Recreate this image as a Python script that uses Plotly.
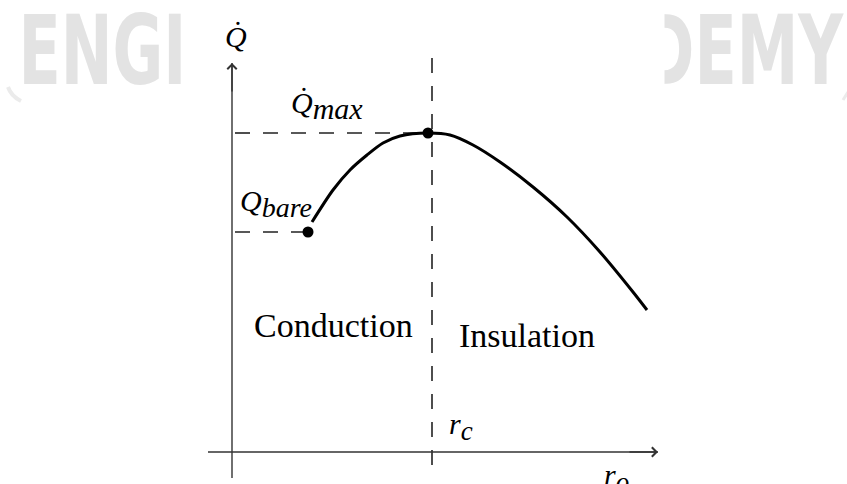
import plotly.graph_objects as go

# curve Q(r_o) (diagram units, origin at axes corner)
r_curve = [0.80, 1.01, 1.18, 1.35, 1.51, 1.68, 1.96, 2.18, 2.41, 2.68, 3.01, 3.35, 3.68, 4.01, 4.15]
q_curve = [2.30, 2.62, 2.82, 2.97, 3.09, 3.16, 3.19, 3.17, 3.07, 2.90, 2.65, 2.35, 2.00, 1.60, 1.42]

# marked points: bare pipe and maximum
r_points = [0.76, 1.96]
q_points = [2.20, 3.19]

r_c = 2.00
q_bare = 2.20
q_max = 3.19

# axis extents
x_axis = [-0.24, 4.26]
y_axis = [-0.26, 3.89]
rc_line = [-0.13, 4.06]

SERIF = "Liberation Serif"
WM_FONT = "DejaVu Sans"
WM_COLOR = "#e3e3e3"
DASH = "15px,13px"
W, H = 847, 484

fig = go.Figure()

# dashed guide lines
fig.add_trace(go.Scatter(x=[0.03, r_points[1]], y=[q_max, q_max], mode="lines",
                         line=dict(color="#222", width=1.6, dash=DASH), hoverinfo="skip"))
fig.add_trace(go.Scatter(x=[0.03, r_points[0]], y=[q_bare, q_bare], mode="lines",
                         line=dict(color="#222", width=1.6, dash=DASH), hoverinfo="skip"))
fig.add_trace(go.Scatter(x=[r_c, r_c], y=rc_line, mode="lines",
                         line=dict(color="#222", width=1.6, dash=DASH), hoverinfo="skip"))

# axes lines
fig.add_trace(go.Scatter(x=x_axis, y=[0, 0], mode="lines",
                         line=dict(color="#333", width=1.4), hoverinfo="skip"))
fig.add_trace(go.Scatter(x=[0, 0], y=y_axis, mode="lines",
                         line=dict(color="#333", width=1.4), hoverinfo="skip"))

# the curve
fig.add_trace(go.Scatter(x=r_curve, y=q_curve, mode="lines",
                         line=dict(color="black", width=3, shape="spline", smoothing=0.8),
                         hoverinfo="skip"))
fig.add_trace(go.Scatter(x=r_points, y=q_points, mode="markers",
                         marker=dict(color="black", size=11), hoverinfo="skip"))

# arrow heads
for (hx, hy, tx, ty) in [(x_axis[1], 0, x_axis[1] - 0.3, 0), (0, y_axis[1], 0, y_axis[1] - 0.3)]:
    fig.add_annotation(x=hx, y=hy, ax=tx, ay=ty, xref="x", yref="y", axref="x", ayref="y",
                       text="", showarrow=True, arrowhead=4, arrowsize=1.3, arrowwidth=1.4,
                       arrowcolor="#333", standoff=0)

def label(x, y, text, size=30, xanchor="left", yanchor="middle"):
    fig.add_annotation(x=x, y=y, xref="x", yref="y", text=text, showarrow=False,
                       xanchor=xanchor, yanchor=yanchor,
                       font=dict(family=SERIF, size=size, color="black"))

label(0.04, 4.16, "<i>Q\u0307</i>", xanchor="center")
label(0.57, 3.47, "<i>Q\u0307</i><sub><span style='font-size:30px'><i>max</i></span></sub>")
label(0.06, 2.49, "<i>Q</i><sub><span style='font-size:28px'><i>bare</i></span></sub>")
label(1.01, 1.27, "Conduction", size=34, xanchor="center")
label(2.95, 1.17, "Insulation", size=34, xanchor="center")
label(2.15, 0.26, "<i>r</i><sub><span style='font-size:27px'><i>c</i></span></sub>")
label(3.70, -0.25, "<i>r</i><sub><span style='font-size:27px'><i>o</i></span></sub>")

# watermark fragments (logo text squeezed horizontally in post_script)
fig.add_annotation(x=188 / W, y=1 - 51 / H, xref="paper", yref="paper", text="<b>ENGI</b>",
                   showarrow=False, xanchor="right", yanchor="middle",
                   font=dict(family=WM_FONT, size=96, color=WM_COLOR))
fig.add_annotation(x=641 / W, y=1 - 51 / H, xref="paper", yref="paper", text="<b>DEMY</b>",
                   showarrow=False, xanchor="left", yanchor="middle",
                   font=dict(family=WM_FONT, size=96, color=WM_COLOR))
fig.add_annotation(x=665 / W, y=1 - 51 / H, xref="paper", yref="paper", text=" ",
                   showarrow=False, xanchor="right", yanchor="middle", width=70, height=100,
                   bgcolor="white", borderpad=0, font=dict(size=10))
# bits of the logo ring
fig.add_shape(type="path", xref="paper", yref="paper",
              path=f"M {8/W},{1-87/H} Q {11/W},{1-96/H} {21/W},{1-101/H}",
              line=dict(color="#ebebeb", width=4))
fig.add_shape(type="line", xref="paper", yref="paper",
              x0=848 / W, y0=1 - 92 / H, x1=843 / W, y1=1 - 100 / H,
              line=dict(color="#ebebeb", width=3))

fig.update_xaxes(range=[-2.32, 6.15], visible=False)
fig.update_yaxes(range=[-0.32, 4.52], visible=False)
fig.update_layout(width=W, height=H, margin=dict(l=0, r=0, t=0, b=0),
                  paper_bgcolor="white", plot_bgcolor="white", showlegend=False)

squeeze = """
document.body.style.margin = '0';
document.querySelectorAll('.annotation-text').forEach(function (t) {
  var s = t.textContent;
  if (s === 'ENGI' || s === 'DEMY') {
    t.style.transformBox = 'fill-box';
    t.style.transformOrigin = (s === 'ENGI' ? 'right' : 'left') + ' center';
    t.style.transform = 'scaleX(0.645)';
  }
});
"""
fig.write_html("out.html", post_script=squeeze, config={"displayModeBar": False})
